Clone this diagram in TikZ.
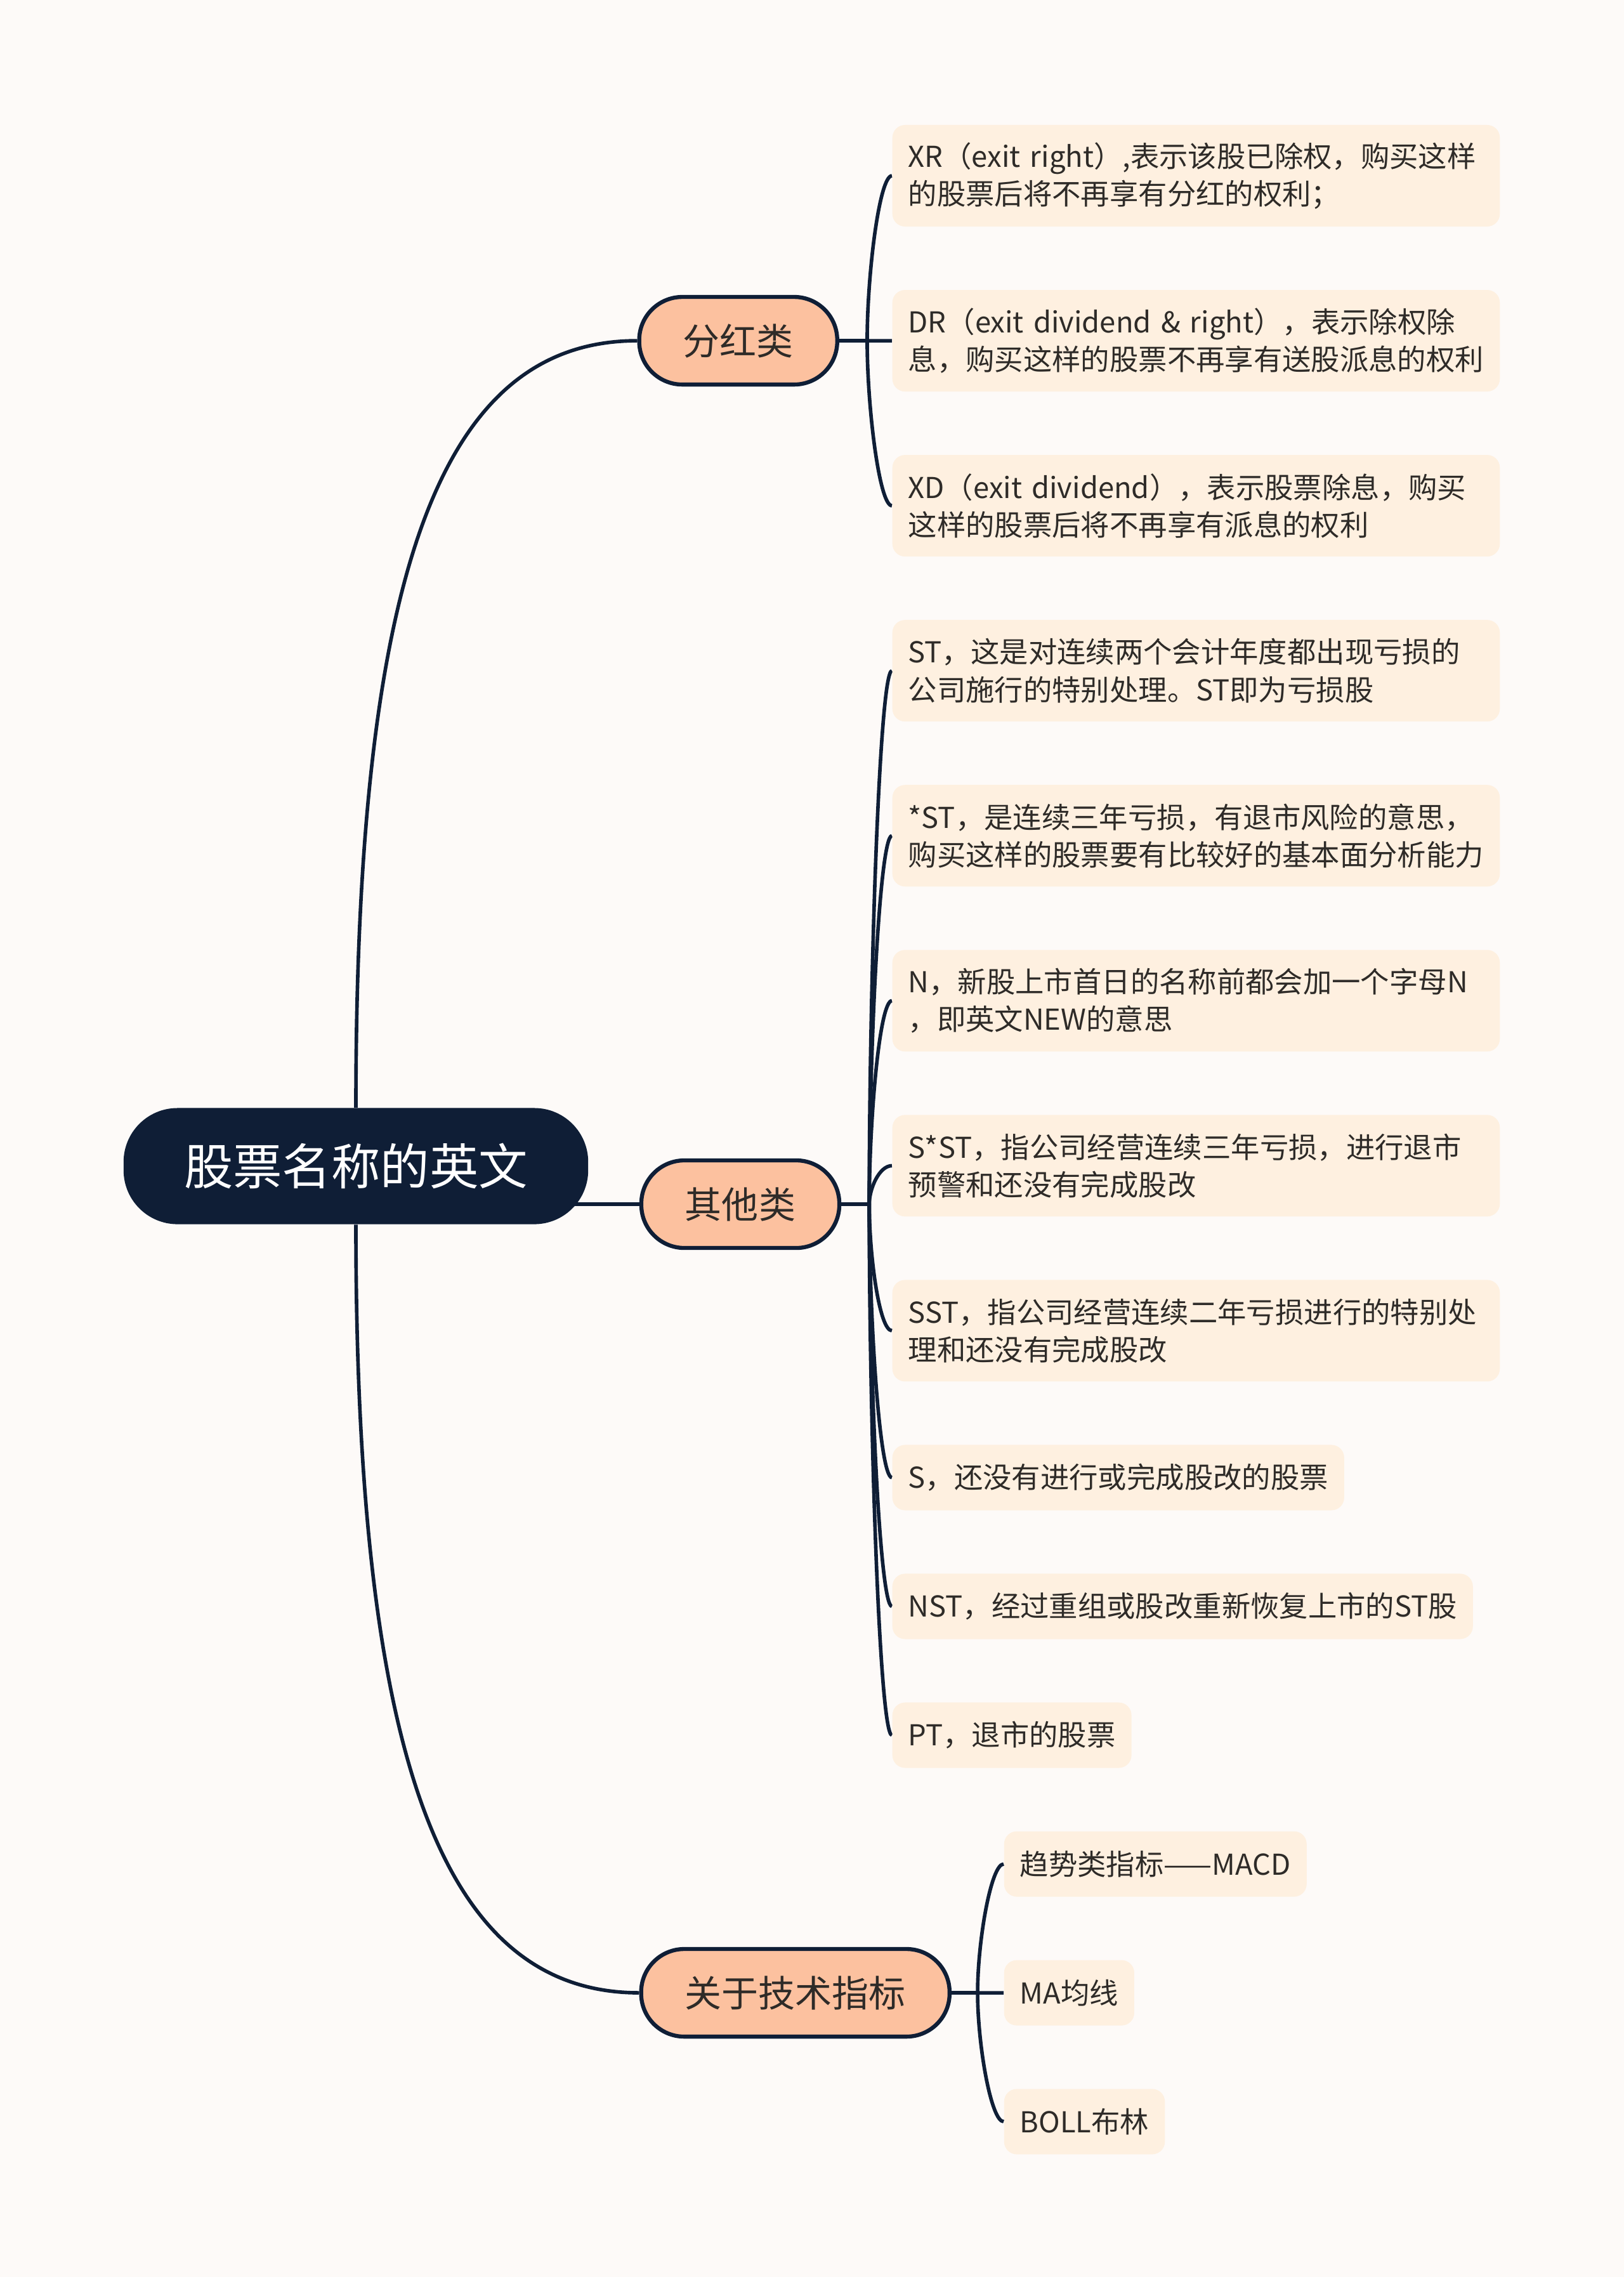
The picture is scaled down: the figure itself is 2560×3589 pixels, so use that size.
\documentclass[tikz,border=0pt]{standalone}
\usepackage{fontspec}
\setmainfont{Noto Sans CJK SC}
\usetikzlibrary{positioning,calc,backgrounds}
\definecolor{pagebg}{HTML}{FDFAF8}
\definecolor{navy}{HTML}{0F1E36}
\definecolor{peach}{HTML}{FCC19F}
\definecolor{cream}{HTML}{FEF0E0}
\definecolor{ink}{HTML}{2E2B28}

\begin{document}
\begin{tikzpicture}[
  x=0.01cm, y=-0.01cm,
  node distance=0.985cm,
  rootbox/.style={fill=navy,text=white,rounded corners=0.85cm,minimum width=7.32cm,
                  minimum height=1.83cm,font=\fontsize{22pt}{26pt}\selectfont},
  topic/.style={draw=navy,line width=1.8pt,fill=peach,text=ink,rounded corners=0.68cm,
                minimum height=1.38cm,inner xsep=0.69cm,font=\fontsize{16.5pt}{20pt}\selectfont},
  leaf/.style={fill=cream,text=ink,rounded corners=0.2cm,minimum height=1.03cm,inner xsep=0.25cm,
               align=left,font=\fontsize{12.9pt}{16.8pt}\selectfont},
  wideleaf/.style={leaf,text width=9.07cm,minimum height=1.6cm},
  link/.style={draw=navy,line width=1.6pt},
]
\useasboundingbox (0,0) rectangle (2560,3589);

% leaves, one column
\node[wideleaf,anchor=west] (xr) at (1406,277) {XR（exit~right）,表示该股已除权，购买这样\\的股票后将不再享有分红的权利；};
\node[wideleaf,below=of xr.south west,anchor=north west] (dr) {DR（exit~dividend~\&~right），表示除权除\\息，购买这样的股票不再享有送股派息的权利};
\node[wideleaf,below=of dr.south west,anchor=north west] (xd) {XD（exit~dividend），表示股票除息，购买\\这样的股票后将不再享有派息的权利};
\node[wideleaf,below=of xd.south west,anchor=north west] (st) {ST，这是对连续两个会计年度都出现亏损的\\公司施行的特别处理。ST即为亏损股};
\node[wideleaf,below=of st.south west,anchor=north west] (xst) {*ST，是连续三年亏损，有退市风险的意思，\\购买这样的股票要有比较好的基本面分析能力};
\node[wideleaf,below=of xst.south west,anchor=north west] (n) {N，新股上市首日的名称前都会加一个字母N\\，即英文NEW的意思};
\node[wideleaf,below=of n.south west,anchor=north west] (sxst) {S*ST，指公司经营连续三年亏损，进行退市\\预警和还没有完成股改};
\node[wideleaf,below=of sxst.south west,anchor=north west] (sst) {SST，指公司经营连续二年亏损进行的特别处\\理和还没有完成股改};
\node[leaf,below=of sst.south west,anchor=north west] (s) {S，还没有进行或完成股改的股票};
\node[leaf,below=of s.south west,anchor=north west] (nst) {NST，经过重组或股改重新恢复上市的ST股};
\node[leaf,below=of nst.south west,anchor=north west] (pt) {PT，退市的股票};
% technical indicators
\node[leaf,below=of pt.south west,anchor=north west,xshift=1.76cm] (macd) {趋势类指标——MACD};
\node[leaf,below=of macd.south west,anchor=north west] (ma) {MA均线};
\node[leaf,below=of ma.south west,anchor=north west] (boll) {BOLL布林};

% topics and root
\node[topic,left=0.83cm of dr] (fh) {分红类};
\node[topic] (qt) at (1167,1898) {其他类};
\node[topic,left=0.82cm of ma] (js) {关于技术指标};
\node[rootbox] (root) at (561,1838) {股票名称的英文};

\coordinate (fhj) at ($(fh.east)+(44,0)$);
\coordinate (qtj) at ($(qt.east)+(44,0)$);
\coordinate (jsj) at ($(js.east)+(41,0)$);

\begin{scope}[on background layer]
\fill[pagebg] (0,0) rectangle (2560,3589);
% main branches
\draw[link] (root.north) .. controls +(0,-844) and +(-310,0) .. (fh.west);
\draw[link] (root.center |- qt.west) -- (qt.west);
\draw[link] (root.south) .. controls +(0,844) and +(-310,0) .. (js.west);
% sub branches
\draw[link] (fh.east) -- (fhj);
\draw[link] (qt.east) -- (qtj);
\draw[link] (js.east) -- (jsj);
\foreach \l in {xr,dr,xd}
  \draw[link] (fhj) .. controls ($(fhj)!0.4!(fhj |- \l.west)$) and +(-20,0) .. (\l.west);
\foreach \l in {st,xst,n,sxst,sst,s,nst,pt}
  \draw[link] (qtj) .. controls ($(qtj)!0.4!(qtj |- \l.west)$) and +(-20,0) .. (\l.west);
\foreach \l in {macd,ma,boll}
  \draw[link] (jsj) .. controls ($(jsj)!0.4!(jsj |- \l.west)$) and +(-20,0) .. (\l.west);
\end{scope}
\end{tikzpicture}
\end{document}
